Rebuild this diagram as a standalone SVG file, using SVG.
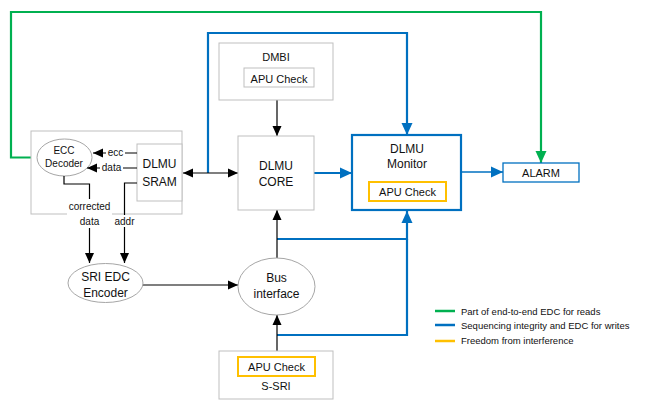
<svg xmlns="http://www.w3.org/2000/svg" width="658" height="400" viewBox="0 0 658 400">
  <style>
    text { font-family: "Liberation Sans", Arial, sans-serif; fill: #111; text-anchor: middle; }
    .box { fill: #fff; stroke: #bfbfbf; stroke-width: 1; }
    .ell { fill: #fff; stroke: #a6a6a6; stroke-width: 1; }
    .apu { fill: #fff; stroke: #bfbfbf; stroke-width: 1; }
    .apuY { fill: #fff; stroke: #ffc000; stroke-width: 2; }
    .blk { fill: none; stroke: #000; stroke-width: 1.2; }
    .blu { fill: none; stroke: #0070c0; stroke-width: 2.2; }
    .grn { fill: none; stroke: #00b050; stroke-width: 2.2; }
    .lbl { fill: #fff; stroke: none; }
    .t12 { font-size: 12px; }
    .t11 { font-size: 11px; }
    .t10 { font-size: 10px; }
    .leg { font-size: 9.5px; text-anchor: start; }
  </style>
  <defs>
    <marker id="ab" markerUnits="userSpaceOnUse" markerWidth="10" markerHeight="10" viewBox="0 0 10 10" refX="10" refY="5" orient="auto-start-reverse">
      <path d="M0,0.5 L10,5 L0,9.5 Z" fill="#000"/>
    </marker>
    <marker id="au" markerUnits="userSpaceOnUse" markerWidth="12" markerHeight="12" viewBox="0 0 12 12" refX="12" refY="6" orient="auto">
      <path d="M0,0.5 L12,6 L0,11.5 Z" fill="#0070c0"/>
    </marker>
    <marker id="ag" markerUnits="userSpaceOnUse" markerWidth="12" markerHeight="12" viewBox="0 0 12 12" refX="12" refY="6" orient="auto">
      <path d="M0,0.5 L12,6 L0,11.5 Z" fill="#00b050"/>
    </marker>
  </defs>

  <!-- connectors -->
  <g id="connectors">
    <!-- end-to-end read path -->
    <polyline class="grn" points="37,157.5 11,157.5 11,12 541,12 541,163" marker-end="url(#ag)"/>
    <!-- write sequencing paths -->
    <polyline class="blu" points="208,173 208,33 407,33 407,135" marker-end="url(#au)"/>
    <line class="blu" x1="314" y1="173" x2="352" y2="173" marker-end="url(#au)"/>
    <line x1="461" y1="172" x2="503" y2="172" stroke="#0070c0" stroke-width="1.5" marker-end="url(#au)"/>
    <polyline class="blu" points="277,239 407,239 407,211" marker-end="url(#au)"/>
    <polyline class="blu" points="277,335 407,335 407,239"/>
    <!-- data paths -->
    <line class="blk" x1="183" y1="173" x2="238" y2="173" marker-start="url(#ab)" marker-end="url(#ab)"/>
    <line class="blk" x1="277" y1="100" x2="277" y2="136" marker-end="url(#ab)"/>
    <line class="blk" x1="277" y1="258" x2="277" y2="210" marker-end="url(#ab)"/>
    <line class="blk" x1="277" y1="351" x2="277" y2="315" marker-end="url(#ab)"/>
    <line class="blk" x1="143" y1="285" x2="238" y2="285" marker-end="url(#ab)"/>
  </g>

  <!-- ECC / SRAM group -->
  <g id="sram-group">
    <rect class="box" x="31" y="131" width="151" height="83"/>
  </g>

  <g id="ecc-decoder">
    <ellipse class="ell" cx="64.5" cy="157.5" rx="27.5" ry="18.5"/>
    <text class="t10" x="64" y="154">ECC</text>
    <text class="t10" x="64" y="166.5">Decoder</text>
  </g>

  <g id="dlmu-sram">
    <rect class="box" x="137" y="144" width="45" height="57"/>
    <text class="t12" x="159.5" y="168">DLMU</text>
    <text class="t12" x="159.5" y="186">SRAM</text>
  </g>

  <!-- SRAM to decoder and encoder links -->
  <g id="sram-links">
    <line class="blk" x1="137" y1="153" x2="93" y2="153" marker-end="url(#ab)"/>
    <line class="blk" x1="137" y1="168" x2="87" y2="168" marker-end="url(#ab)"/>
    <rect class="lbl" x="106" y="147" width="19" height="11"/>
    <text class="t10" x="115.5" y="155.5">ecc</text>
    <rect class="lbl" x="100" y="162" width="23" height="11"/>
    <text class="t10" x="111.5" y="171">data</text>
    <polyline class="blk" points="64,176 64,184 89.5,184 89.5,263" marker-end="url(#ab)"/>
    <polyline class="blk" points="137,183 124.5,183 124.5,263" marker-end="url(#ab)"/>
    <rect class="lbl" x="67" y="199" width="45" height="29"/>
    <text class="t10" x="89.5" y="210">corrected</text>
    <text class="t10" x="89.5" y="225">data</text>
    <rect class="lbl" x="113" y="215" width="23" height="12"/>
    <text class="t10" x="124.5" y="225">addr</text>
  </g>

  <g id="sri-edc-encoder">
    <ellipse class="ell" cx="105.5" cy="283" rx="37.5" ry="19.5"/>
    <text class="t12" x="105.5" y="281">SRI EDC</text>
    <text class="t12" x="105.5" y="297">Encoder</text>
  </g>

  <g id="dmbi">
    <rect class="box" x="219" y="43" width="114" height="57"/>
    <text class="t11" x="276" y="61">DMBI</text>
    <rect class="apu" x="244" y="68" width="70" height="19"/>
    <text class="t11" x="279" y="82.5">APU Check</text>
  </g>

  <g id="dlmu-core">
    <rect class="box" x="238" y="136" width="76" height="74"/>
    <text class="t12" x="276" y="169.5">DLMU</text>
    <text class="t12" x="276" y="185.5">CORE</text>
  </g>

  <g id="dlmu-monitor">
    <rect x="352" y="135" width="109" height="75" fill="#fff" stroke="#0070c0" stroke-width="2.2"/>
    <text class="t12" x="407" y="152.5">DLMU</text>
    <text class="t12" x="407" y="168">Monitor</text>
    <rect class="apuY" x="369" y="182" width="77" height="19"/>
    <text class="t11" x="407.5" y="196">APU Check</text>
  </g>

  <g id="alarm">
    <rect x="503" y="163" width="76" height="19" fill="#fff" stroke="#0070c0" stroke-width="1.3"/>
    <text class="t11" x="541" y="177">ALARM</text>
  </g>

  <g id="bus-interface">
    <ellipse class="ell" cx="276.5" cy="286.5" rx="38.5" ry="28.5"/>
    <text class="t12" x="276.5" y="282">Bus</text>
    <text class="t12" x="276.5" y="298">interface</text>
  </g>

  <g id="s-sri">
    <rect class="box" x="219" y="351" width="114" height="48"/>
    <rect class="apuY" x="238" y="357" width="77" height="19"/>
    <text class="t11" x="276.5" y="371">APU Check</text>
    <text class="t11" x="276" y="390">S-SRI</text>
  </g>

  <g id="legend">
    <line x1="435" y1="311" x2="455" y2="311" stroke="#00b050" stroke-width="2.5"/>
    <text class="leg" x="461" y="314.5">Part of end-to-end EDC for reads</text>
    <line x1="435" y1="325" x2="455" y2="325" stroke="#0070c0" stroke-width="2.5"/>
    <text class="leg" x="461" y="328.5">Sequencing integrity and EDC for writes</text>
    <line x1="435" y1="341" x2="455" y2="341" stroke="#ffc000" stroke-width="2.5"/>
    <text class="leg" x="461" y="344">Freedom from interference</text>
  </g>
</svg>
